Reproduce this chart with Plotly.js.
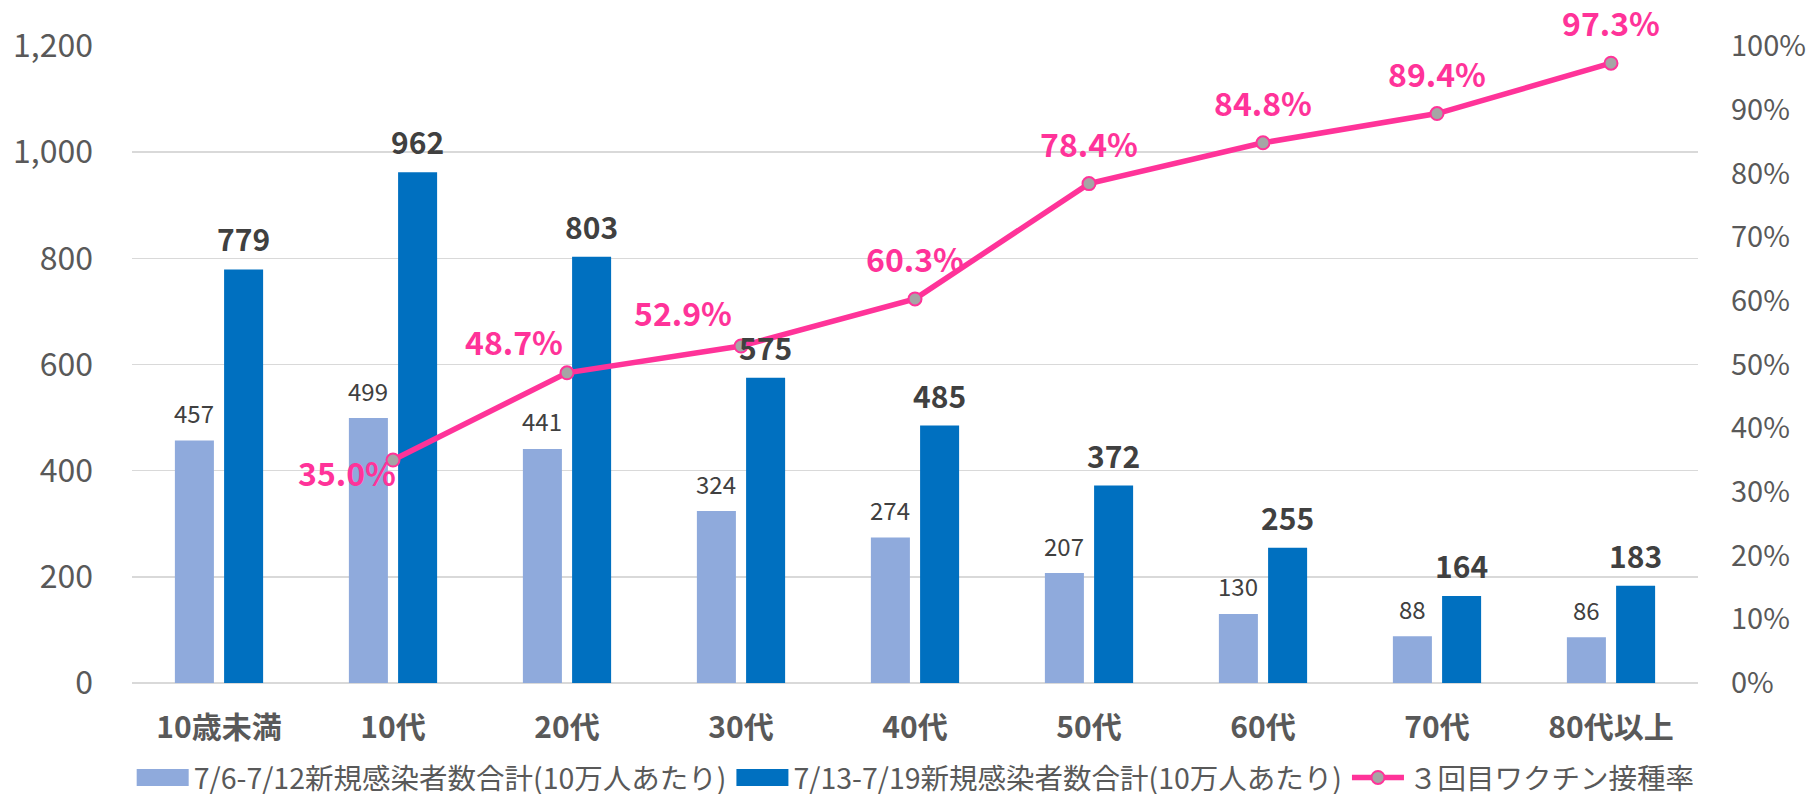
<!DOCTYPE html>
<html>
<head>
<meta charset="utf-8">
<script src="https://cdn.plot.ly/plotly-3.0.1.min.js"></script>
<style>
  html, body { margin: 0; padding: 0; background: #fff; }
  #chart { width: 1810px; height: 794px; }
</style>
</head>
<body>
<div id="chart"></div>
<script>
// ---- data ----
const categories = ['10歳未満', '10代', '20代', '30代', '40代', '50代', '60代', '70代', '80代以上'];
const week1Name = '7/6-7/12新規感染者数合計(10万人あたり)';
const week2Name = '7/13-7/19新規感染者数合計(10万人あたり)';
const rateName = '３回目ワクチン接種率';
const week1Values = [457, 499, 441, 324, 274, 207, 130, 88, 86];
const week2Values = [779, 962, 803, 575, 485, 372, 255, 164, 183];
const boosterRate = [null, 0.350, 0.487, 0.529, 0.603, 0.784, 0.848, 0.894, 0.973];
const leftTicks = [0, 200, 400, 600, 800, 1000, 1200];

// ---- styles ----
const FONT = '"Noto Sans CJK JP", "Noto Sans", sans-serif';
const LIGHT = '#8FAADC';
const DARK = '#0070C0';
const PINK = '#FF3399';
const GREY_TXT = '#595959';
const LABEL_TXT = '#404040';
const BAR_SLOT = 24.6; // half slot in px for label placement
// per-point label offsets for the rate labels [xshift, yshift]
const rateLabelShift = [null, [-46, -12], [-53, 32], [-58, 34], [0, 41], [0, 41], [0, 41], [0, 41], [0, 41]];

const traces = [
  {
    type: 'bar', name: week1Name, x: categories, y: week1Values,
    marker: { color: LIGHT }, hoverinfo: 'skip'
  },
  {
    type: 'bar', name: week2Name, x: categories, y: week2Values,
    marker: { color: DARK }, hoverinfo: 'skip'
  },
  {
    type: 'scatter', mode: 'lines+markers', name: rateName, x: categories, y: boosterRate,
    yaxis: 'y2', connectgaps: false,
    line: { color: PINK, width: 5.5 },
    marker: { size: 13, color: '#A5A5A5', line: { color: PINK, width: 2 } },
    hoverinfo: 'skip'
  }
];

const annotations = [];
categories.forEach((c, i) => {
  annotations.push({
    x: c, y: week1Values[i], xref: 'x', yref: 'y', text: String(week1Values[i]),
    showarrow: false, xanchor: 'center', yanchor: 'middle', xshift: -BAR_SLOT, yshift: 28,
    font: { family: FONT, size: 24, color: LABEL_TXT }
  });
  annotations.push({
    x: c, y: week2Values[i], xref: 'x', yref: 'y', text: String(week2Values[i]),
    showarrow: false, xanchor: 'center', yanchor: 'middle', xshift: BAR_SLOT, yshift: 31,
    font: { family: FONT, size: 30, color: LABEL_TXT, weight: 'bold' }
  });
  if (boosterRate[i] !== null) {
    annotations.push({
      x: c, y: boosterRate[i], xref: 'x', yref: 'y2', text: (boosterRate[i] * 100).toFixed(1) + '%',
      showarrow: false, xanchor: 'center', yanchor: 'middle',
      xshift: rateLabelShift[i][0], yshift: rateLabelShift[i][1],
      font: { family: FONT, size: 32, color: PINK, weight: 'bold' }
    });
  }
});

const layout = {
  width: 1810, height: 794,
  margin: { l: 132, r: 112, t: 46, b: 111, pad: 0, autoexpand: false },
  paper_bgcolor: '#ffffff', plot_bgcolor: '#ffffff',
  font: { family: FONT, color: GREY_TXT },
  barmode: 'group', bargap: 0.4345, bargroupgap: 0.207,
  showlegend: true,
  legend: {
    orientation: 'h', x: -0.0002, xanchor: 'left', y: -0.149, yanchor: 'middle',
    itemwidth: 52,
    font: { family: FONT, size: 28.5, color: GREY_TXT }, traceorder: 'normal'
  },
  xaxis: {
    type: 'category', showgrid: false, showline: false, zeroline: false, ticks: '',
    tickfont: { family: FONT, size: 30, color: GREY_TXT, weight: 'bold' },
    ticklabelstandoff: 24
  },
  yaxis: {
    range: [0, 1200], tickvals: leftTicks, tickformat: ',d',
    showgrid: true, gridcolor: '#D9D9D9', gridwidth: 1.5,
    zeroline: true, zerolinecolor: '#D9D9D9', zerolinewidth: 1.5,
    showline: false, ticks: '',
    tickfont: { family: FONT, size: 32, color: GREY_TXT },
    ticklabelstandoff: 38
  },
  yaxis2: {
    overlaying: 'y', side: 'right', range: [0, 1], dtick: 0.1, tick0: 0, tickformat: '.0%',
    showgrid: false, zeroline: false, showline: false, ticks: '',
    tickfont: { family: FONT, size: 29, color: GREY_TXT },
    ticklabelstandoff: 32
  },
  annotations: annotations
};

Plotly.newPlot('chart', traces, layout, { displayModeBar: false, staticPlot: true }).then(() => {
  // widen the bar legend swatches to the reference's flat rectangles
  document.querySelectorAll('#chart .legend .legendpoints path').forEach(p => {
    if (p.getAttribute('d') === 'M6,6H-6V-6H6Z') p.setAttribute('d', 'M26,8.5H-26V-8.5H26Z');
  });
});
</script>
</body>
</html>
